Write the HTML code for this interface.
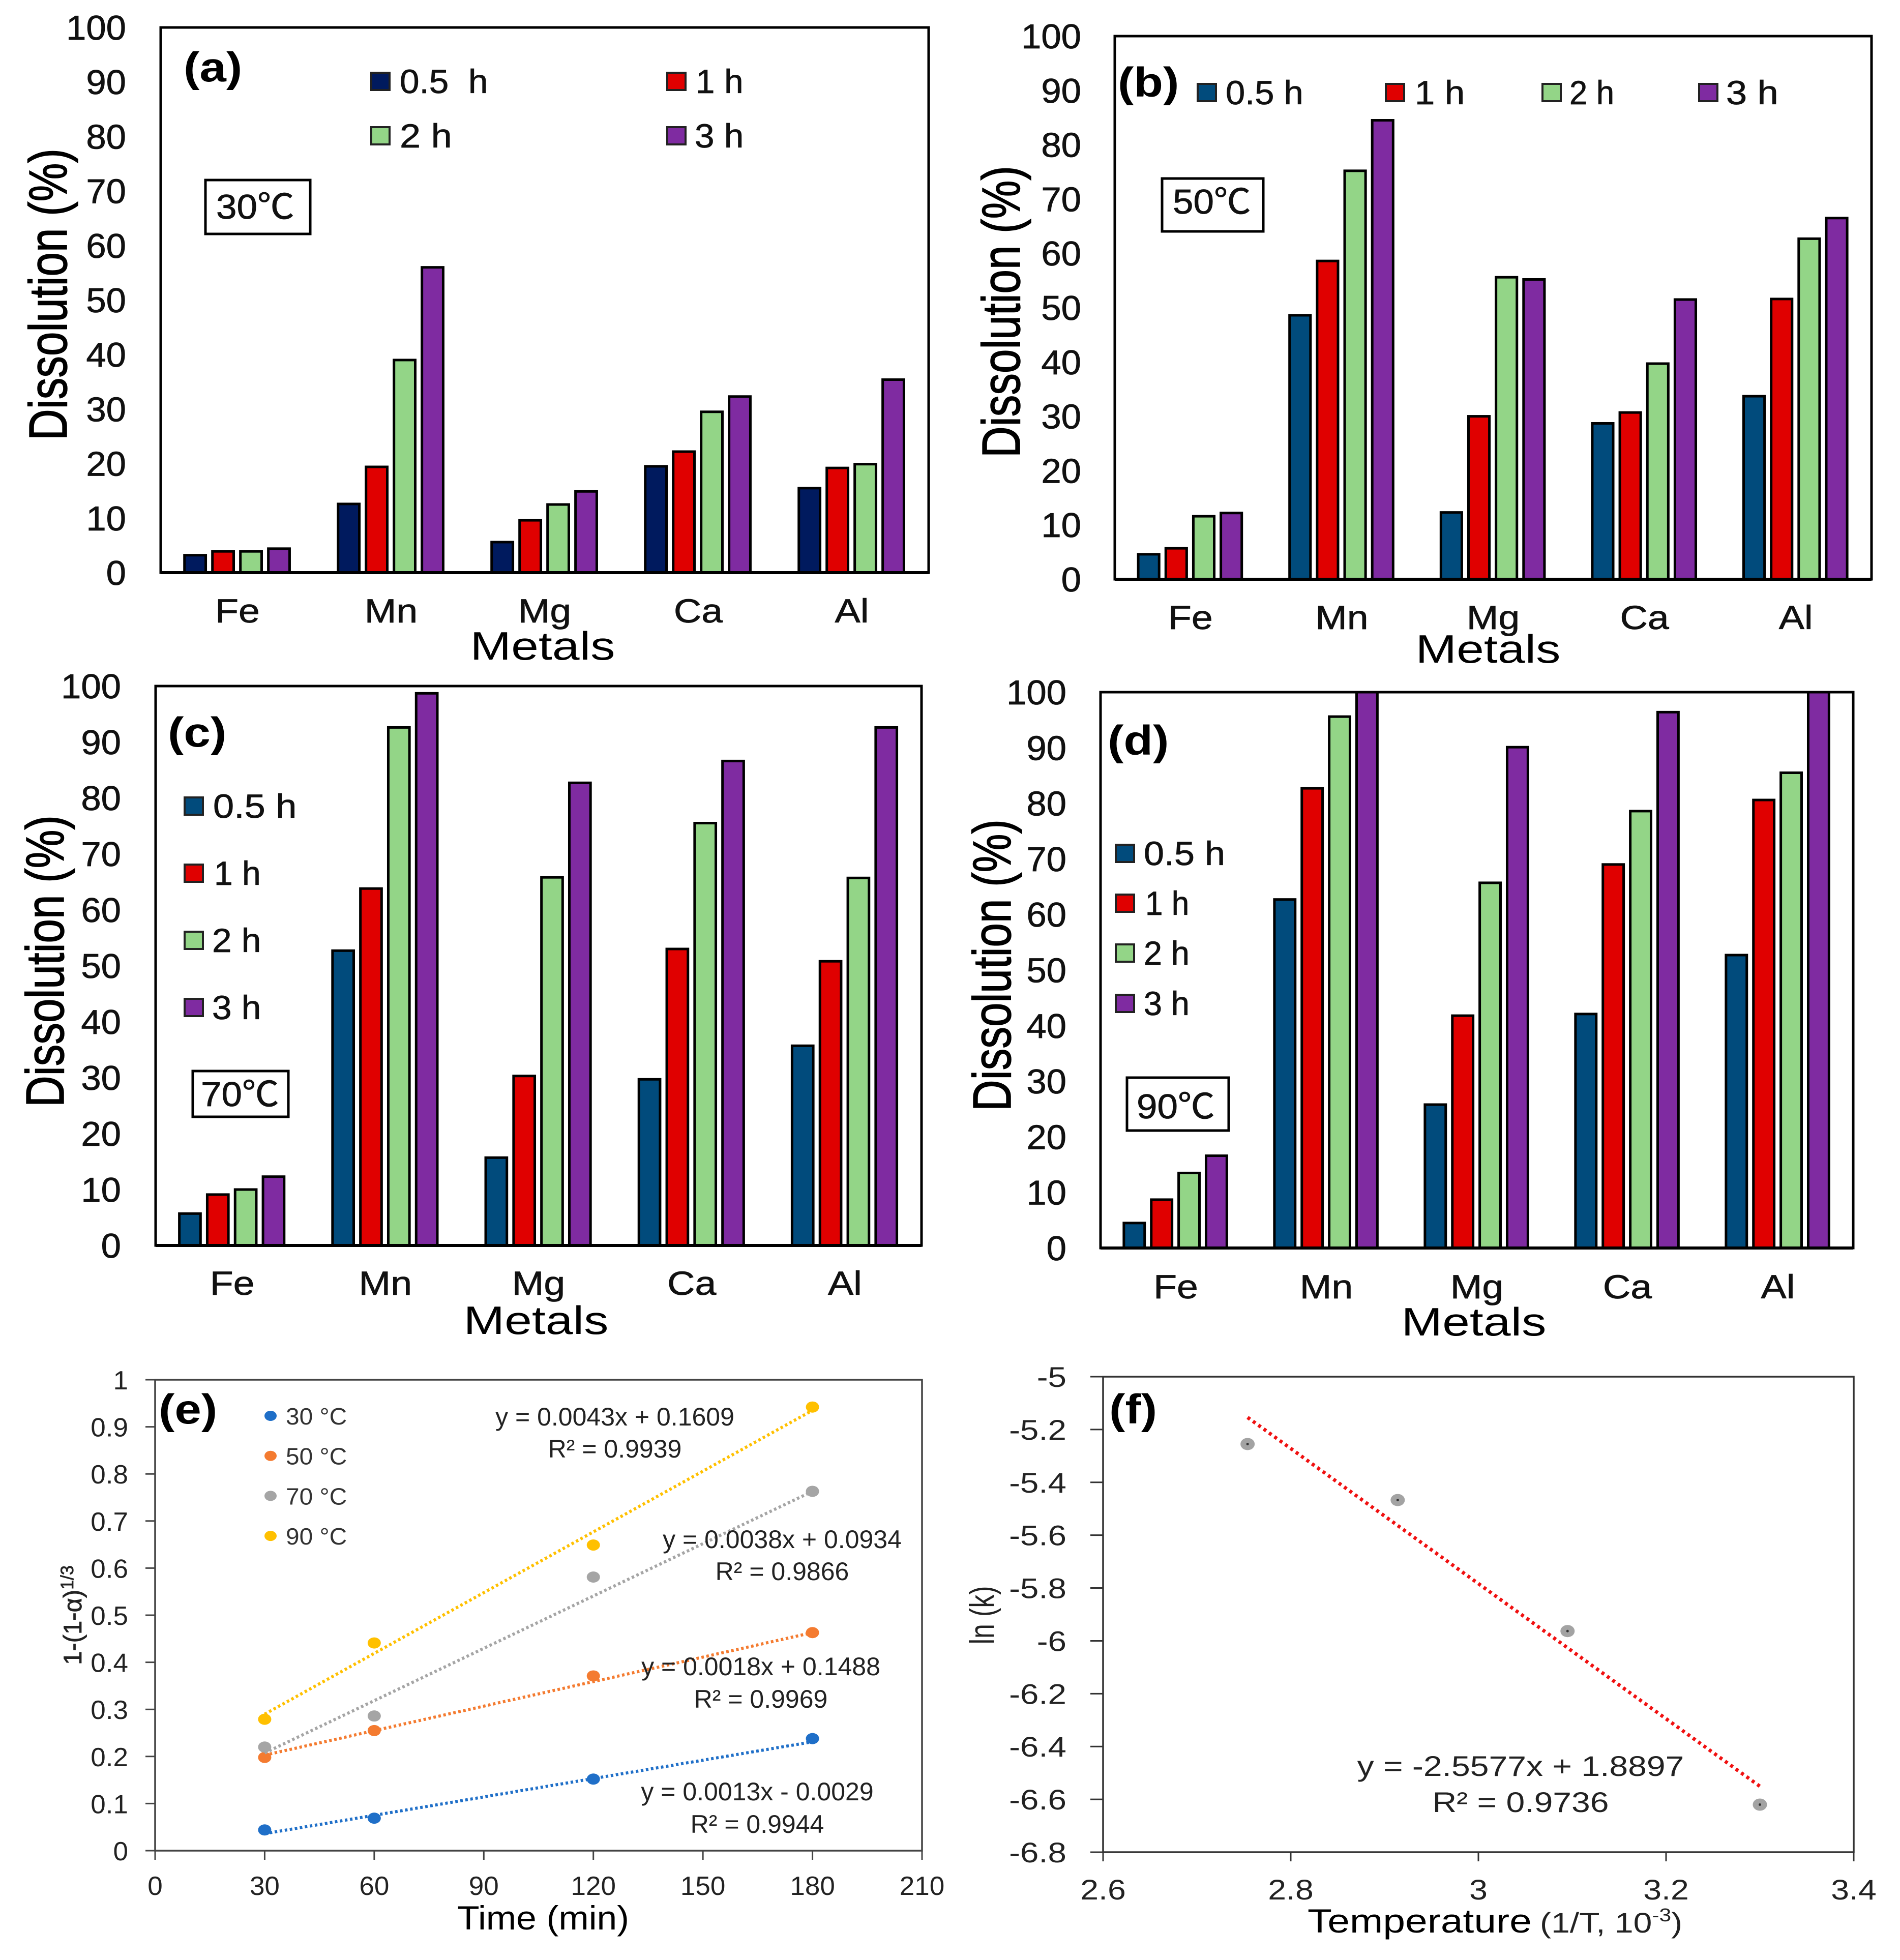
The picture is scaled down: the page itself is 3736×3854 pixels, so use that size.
<!DOCTYPE html>
<html lang="en">
<head>
<meta charset="utf-8">
<title>Metal dissolution and kinetics charts</title>
<style>
html,body{margin:0;padding:0;background:#fff;}
svg{display:block;}
text{font-family:"Liberation Sans","Noto Sans CJK SC",sans-serif;}
</style>
</head>
<body>
<svg id="figure" xmlns="http://www.w3.org/2000/svg" width="3736" height="3854" viewBox="0 0 3736 3854">
<rect width="3736" height="3854" fill="#fff"></rect>
</svg>
<script>
const categories = ['Fe','Mn','Mg','Ca','Al'];
const yTicksPercent = [0,10,20,30,40,50,60,70,80,90,100];

const a05 = [3.2,12.6,5.6,19.5,15.5];
const a1  = [3.9,19.4,9.6,22.2,19.2];
const a2  = [3.9,39.0,12.5,29.5,19.9];
const a3  = [4.4,56.0,14.9,32.3,35.4];

const b05 = [4.6,48.6,12.3,28.7,33.7];
const b1  = [5.7,58.6,30.0,30.7,51.6];
const b2  = [11.6,75.2,55.6,39.7,62.7];
const b3  = [12.2,84.5,55.2,51.5,66.5];

const c05 = [5.7,52.7,15.7,29.7,35.7];
const c1  = [9.1,63.8,30.3,53.0,50.8];
const c2  = [10.0,92.6,65.8,75.5,65.7];
const c3  = [12.3,98.7,82.7,86.6,92.6];

const d05 = [4.5,62.7,25.8,42.1,52.7];
const d1  = [8.7,82.7,41.8,69.0,80.6];
const d2  = [13.5,95.6,65.7,78.6,85.5];
const d3  = [16.6,100,90.1,96.4,100];

const kineticTimes = [30,60,120,180];
const kinetic30 = [0.044,0.069,0.152,0.238];
const kinetic50 = [0.198,0.255,0.371,0.463];
const kinetic70 = [0.220,0.286,0.581,0.763];
const kinetic90 = [0.279,0.441,0.649,0.942];
const kineticSlopes = [0.0013,0.0018,0.0038,0.0043];
const kineticIntercepts = [-0.0029,0.1488,0.0934,0.1609];
const kineticLabels = ['30 °C','50 °C','70 °C','90 °C'];
const kineticXTicks = [0,30,60,90,120,150,180,210];
const kineticYTicks = [0,0.1,0.2,0.3,0.4,0.5,0.6,0.7,0.8,0.9,1];

const arrheniusX = [2.754,2.914,3.095,3.300];
const arrheniusY = [-5.255,-5.467,-5.963,-6.620];
const arrheniusSlope = -2.5577;
const arrheniusIntercept = 1.8897;
const arrheniusXTicks = [2.6,2.8,3,3.2,3.4];
const arrheniusYTicks = [-5,-5.2,-5.4,-5.6,-5.8,-6,-6.2,-6.4,-6.6,-6.8];

const NS = 'http://www.w3.org/2000/svg';
const root = document.getElementById('figure');
const RED = '#e00000', GREEN = '#93d587', PURPLE = '#7f2ba1';

function mk(parent, tag, name, attrs) {
  const el = document.createElementNS(NS, tag);
  for (const k in attrs) el.setAttribute(k, attrs[k]);
  
  
  parent.appendChild(el);
  return el;
}

function label(parent, name, str, x, y, o) {
  o = o || {};
  const sx = o.sx || 1;
  const tf = o.rotate
    ? 'translate(' + x + ',' + y + ') rotate(-90) scale(' + sx + ',1)'
    : 'translate(' + x + ',' + y + ') scale(' + sx + ',1)';
  const fill = o.fill || '#000';
  const el = mk(parent, 'text', name, {
    transform: tf,
    'font-size': o.size || 50,
    'text-anchor': o.anchor || 'start',
    'font-weight': o.weight || 'normal',
    fill: fill,
    stroke: o.sw ? fill : 'none',
    'stroke-width': o.sw || 0
  });
  el.textContent = str;
  return el;
}

function drawBarPanel(cfg) {
  const g = mk(root, 'g', 'panel-' + cfg.id, {});
  const yPos = v => cfg.B - (cfg.B - cfg.T) * v / 100;
  const catW = (cfg.R - cfg.L) / categories.length;
  const colors = [cfg.navy, RED, GREEN, PURPLE];
  const xPos = (c, s) => cfg.L + catW * c + catW * 0.1465 + catW * 0.182 * s;

  mk(g, 'rect', 'plot-frame', {x: cfg.L, y: cfg.T, width: cfg.R - cfg.L, height: cfg.B - cfg.T, fill: '#fff', stroke: '#000', 'stroke-width': 5});

  cfg.values.forEach((series, s) => {
    series.forEach((v, c) => {
      mk(g, 'rect', 'bar-' + categories[c].toLowerCase() + '-series-' + s, {
        x: xPos(c, s) + 2.5,
        y: yPos(v),
        width: catW * 0.155 - 5,
        height: cfg.B - yPos(v),
        fill: colors[s],
        stroke: '#000',
        'stroke-width': 5
      });
    });
  });

  mk(g, 'line', 'x-axis-line', {x1: cfg.L, x2: cfg.R, y1: cfg.B, y2: cfg.B, stroke: '#000', 'stroke-width': 6});

  yTicksPercent.forEach(t => {
    label(g, 'y-tick-label', String(t), cfg.tickRight, yPos(t) + 24, {size: 68, sx: 1.04, anchor: 'end', fill: '#111', sw: 0.8});
  });
  categories.forEach((name, c) => {
    label(g, 'x-category-label', name, cfg.L + catW * (c + 0.5), cfg.catY + 24, {size: 66, sx: 1.14, anchor: 'middle', fill: '#111', sw: 0.8});
  });
  label(g, 'x-axis-title', 'Metals', cfg.metalsX, cfg.metalsY + 3, {size: 78, sx: 1.24, anchor: 'middle'});
  label(g, 'y-axis-title', 'Dissolution (%)', cfg.titleX, cfg.titleY, {size: 106, sx: 0.805, anchor: 'middle', rotate: true, sw: 1.5});
  label(g, 'panel-tag', '(' + cfg.id + ')', cfg.tagX, cfg.tagY, {size: 82, sx: 1.15, weight: 'bold'});

  cfg.legend.forEach((e, i) => {
    mk(g, 'rect', 'legend-swatch', {x: e.x + 2, y: e.y - 17, width: 36, height: 34, fill: colors[i], stroke: '#222', 'stroke-width': 4});
    label(g, 'legend-entry', e.text, e.tx, e.y + 23, {size: 66, sx: e.sx, fill: '#111', sw: 0.8});
  });

  mk(g, 'rect', 'temperature-box', {x: cfg.box.x, y: cfg.box.y, width: cfg.box.w, height: cfg.box.h, fill: '#fff', stroke: '#000', 'stroke-width': 5});
  label(g, 'temperature-label', cfg.box.text, cfg.box.tx, cfg.box.cy + 23, {size: 68, sx: 1.07, fill: '#111', sw: 0.8});
}

drawBarPanel({
  id: 'a', L: 316, R: 1826, T: 54, B: 1126, navy: '#001a5e',
  values: [a05, a1, a2, a3], tickRight: 248, catY: 1200,
  metalsX: 1067, metalsY: 1294, titleX: 131, titleY: 579, tagX: 361, tagY: 160,
  legend: [
    {x: 728, y: 160, tx: 786, text: '0.5\u00A0 h', sx: 1.05},
    {x: 1310, y: 160, tx: 1368, text: '1 h', sx: 1.02},
    {x: 728, y: 267, tx: 786, text: '2 h', sx: 1.12},
    {x: 1310, y: 267, tx: 1366, text: '3 h', sx: 1.05}
  ],
  box: {x: 404, y: 354, w: 206, h: 106, text: '30℃', tx: 425, cy: 407}
});

drawBarPanel({
  id: 'b', L: 2192, R: 3680, T: 71, B: 1139, navy: '#014b7c',
  values: [b05, b1, b2, b3], tickRight: 2126, catY: 1213,
  metalsX: 2926, metalsY: 1300, titleX: 2005, titleY: 613, tagX: 2198, tagY: 190,
  legend: [
    {x: 2353, y: 182, tx: 2410, text: '0.5 h', sx: 1.04},
    {x: 2723, y: 182, tx: 2782, text: '1 h', sx: 1.07},
    {x: 3031, y: 182, tx: 3086, text: '2 h', sx: 0.96},
    {x: 3339, y: 182, tx: 3394, text: '3 h', sx: 1.12}
  ],
  box: {x: 2285, y: 351, w: 199, h: 104, text: '50℃', tx: 2306, cy: 397}
});

drawBarPanel({
  id: 'c', L: 306, R: 1812, T: 1349, B: 2449, navy: '#014b7c',
  values: [c05, c1, c2, c3], tickRight: 238, catY: 2522,
  metalsX: 1054, metalsY: 2620, titleX: 125, titleY: 1890, tagX: 330, tagY: 1468,
  legend: [
    {x: 361, y: 1585, tx: 419, text: '0.5 h', sx: 1.12},
    {x: 361, y: 1717, tx: 421, text: '1 h', sx: 1.0},
    {x: 361, y: 1849, tx: 417, text: '2 h', sx: 1.05},
    {x: 361, y: 1981, tx: 417, text: '3 h', sx: 1.05}
  ],
  box: {x: 379, y: 2106, w: 188, h: 90, text: '70℃', tx: 395, cy: 2152}
});

drawBarPanel({
  id: 'd', L: 2164, R: 3644, T: 1361, B: 2454, navy: '#014b7c',
  values: [d05, d1, d2, d3], tickRight: 2097, catY: 2529,
  metalsX: 2898, metalsY: 2623, titleX: 1987, titleY: 1898, tagX: 2178, tagY: 1484,
  legend: [
    {x: 2192, y: 1678, tx: 2249, text: '0.5 h', sx: 1.09},
    {x: 2192, y: 1776, tx: 2252, text: '1 h', sx: 0.94},
    {x: 2192, y: 1874, tx: 2249, text: '2 h', sx: 0.98},
    {x: 2192, y: 1973, tx: 2249, text: '3 h', sx: 0.98}
  ],
  box: {x: 2216, y: 2119, w: 200, h: 104, text: '90℃', tx: 2235, cy: 2176}
});

(function drawKinetics() {
  const g = mk(root, 'g', 'panel-e', {});
  const L = 305, R = 1813, T = 2713, B = 3639;
  const xPos = v => L + (R - L) * v / 210;
  const yPos = v => B - (B - T) * v;
  const colors = ['#1f6fc8', '#f47b30', '#a5a5a5', '#ffc000'];
  const series = [kinetic30, kinetic50, kinetic70, kinetic90];

  mk(g, 'rect', 'plot-frame', {x: L, y: T, width: R - L, height: B - T, fill: '#fff', stroke: '#444', 'stroke-width': 3.5});

  kineticYTicks.forEach(t => {
    mk(g, 'line', 'y-tick', {x1: L - 19, x2: L, y1: yPos(t), y2: yPos(t), stroke: '#444', 'stroke-width': 3});
    label(g, 'y-tick-label', String(t), 252, yPos(t) + 19, {size: 52, sx: 1.02, anchor: 'end', fill: '#222'});
  });
  kineticXTicks.forEach(t => {
    mk(g, 'line', 'x-tick', {x1: xPos(t), x2: xPos(t), y1: B, y2: B + 18, stroke: '#444', 'stroke-width': 3});
    label(g, 'x-tick-label', String(t), xPos(t), 3726, {size: 52, sx: 1.02, anchor: 'middle', fill: '#222'});
  });

  series.forEach((vals, s) => {
    const first = kineticTimes[0], last = kineticTimes[kineticTimes.length - 1];
    mk(g, 'line', 'trendline-' + kineticLabels[s].replace(' °C', 'c'), {
      x1: xPos(first), x2: xPos(last),
      y1: yPos(kineticSlopes[s] * first + kineticIntercepts[s]),
      y2: yPos(Math.min(vals[3], kineticSlopes[s] * last + kineticIntercepts[s])),
      stroke: colors[s], 'stroke-width': 6, 'stroke-dasharray': '5 5'
    });
    vals.forEach((v, i) => {
      mk(g, 'ellipse', 'point-' + kineticLabels[s].replace(' °C', 'c'), {cx: xPos(kineticTimes[i]), cy: yPos(v), rx: 13, ry: 11, fill: colors[s]});
    });
  });

  kineticLabels.forEach((t, s) => {
    const cy = 2784 + 78.7 * s;
    mk(g, 'ellipse', 'legend-marker', {cx: 532, cy: cy, rx: 12, ry: 10, fill: colors[s]});
    label(g, 'legend-entry', t, 562, cy + 17, {size: 46, sx: 1.04, fill: '#333'});
  });

  const equations = [
    ['y = 0.0043x + 0.1609', 'R² = 0.9939', 1209, 2803, 2866],
    ['y = 0.0038x + 0.0934', 'R² = 0.9866', 1538, 3044, 3107],
    ['y = 0.0018x + 0.1488', 'R² = 0.9969', 1496, 3294, 3358],
    ['y = 0.0013x - 0.0029', 'R² = 0.9944', 1489, 3540, 3604]
  ];
  equations.forEach(e => {
    label(g, 'trend-equation', e[0], e[2], e[3], {size: 50, sx: 1.0, anchor: 'middle', fill: '#222'});
    label(g, 'r-squared-label', e[1], e[2], e[4], {size: 50, sx: 1.0, anchor: 'middle', fill: '#222'});
  });

  label(g, 'panel-tag', '(e)', 312, 2799, {size: 82, sx: 1.15, weight: 'bold'});
  label(g, 'x-axis-title', 'Time (min)', 1068, 3794, {size: 66, sx: 1.08, anchor: 'middle'});

  const yt = label(g, 'y-axis-title', '1-(1-α)', 160, 3176, {size: 50, sx: 0.98, anchor: 'middle', rotate: true, fill: '#222', sw: 0.8});
  const sup = mk(yt, 'tspan', 'y-axis-title-exponent', {dy: -16, 'font-size': 35});
  sup.textContent = '1/3';
})();

(function drawArrhenius() {
  const g = mk(root, 'g', 'panel-f', {});
  const L = 2169, R = 3645, T = 2707, B = 3642;
  const xPos = v => L + (R - L) * (v - 2.6) / 0.8;
  const yPos = v => T + (B - T) * (-5 - v) / 1.8;

  mk(g, 'rect', 'plot-frame', {x: L, y: T, width: R - L, height: B - T, fill: '#fff', stroke: '#333', 'stroke-width': 3.5});

  arrheniusYTicks.forEach(t => {
    mk(g, 'line', 'y-tick', {x1: L - 25, x2: L, y1: yPos(t), y2: yPos(t), stroke: '#333', 'stroke-width': 3});
    label(g, 'y-tick-label', String(t), 2097, yPos(t) + 20, {size: 56, sx: 1.17, anchor: 'end', fill: '#222'});
  });
  arrheniusXTicks.forEach(t => {
    mk(g, 'line', 'x-tick', {x1: xPos(t), x2: xPos(t), y1: B, y2: B + 18, stroke: '#333', 'stroke-width': 3});
    label(g, 'x-tick-label', String(t), xPos(t), 3735, {size: 56, sx: 1.15, anchor: 'middle', fill: '#222'});
  });

  const x0 = arrheniusX[0], x1 = arrheniusX[arrheniusX.length - 1];
  mk(g, 'line', 'trendline', {
    x1: xPos(x0), x2: xPos(x1),
    y1: yPos(arrheniusSlope * x0 + arrheniusIntercept),
    y2: yPos(arrheniusSlope * x1 + arrheniusIntercept),
    stroke: '#f01010', 'stroke-width': 7, 'stroke-dasharray': '6 7'
  });

  arrheniusX.forEach((v, i) => {
    mk(g, 'ellipse', 'data-point', {cx: xPos(v), cy: yPos(arrheniusY[i]), rx: 14, ry: 12, fill: '#a3a3a3'});
    mk(g, 'circle', 'data-point-center', {cx: xPos(v), cy: yPos(arrheniusY[i]), r: 2.5, fill: '#333'});
  });

  label(g, 'panel-tag', '(f)', 2181, 2799, {size: 82, sx: 1.15, weight: 'bold'});
  label(g, 'trend-equation', 'y = -2.5577x + 1.8897', 2990, 3492, {size: 56, sx: 1.18, anchor: 'middle', fill: '#222'});
  label(g, 'r-squared-label', 'R² = 0.9736', 2990, 3563, {size: 56, sx: 1.18, anchor: 'middle', fill: '#222'});

  label(g, 'x-axis-title', 'Temperature', 2571, 3800, {size: 66, sx: 1.19});
  const unit = label(g, 'x-axis-unit', '(1/T, 10', 3028, 3800, {size: 56, sx: 1.18, fill: '#222'});
  const exp = mk(unit, 'tspan', 'x-axis-unit-exponent', {dy: -22, 'font-size': 36});
  exp.textContent = '-3';
  const close = mk(unit, 'tspan', 'x-axis-unit-close', {dy: 22});
  close.textContent = ')';

  label(g, 'y-axis-title', 'ln (k)', 1954, 3176, {size: 68, sx: 0.76, anchor: 'middle', rotate: true, fill: '#222'});
})();
</script>
</body>
</html>
